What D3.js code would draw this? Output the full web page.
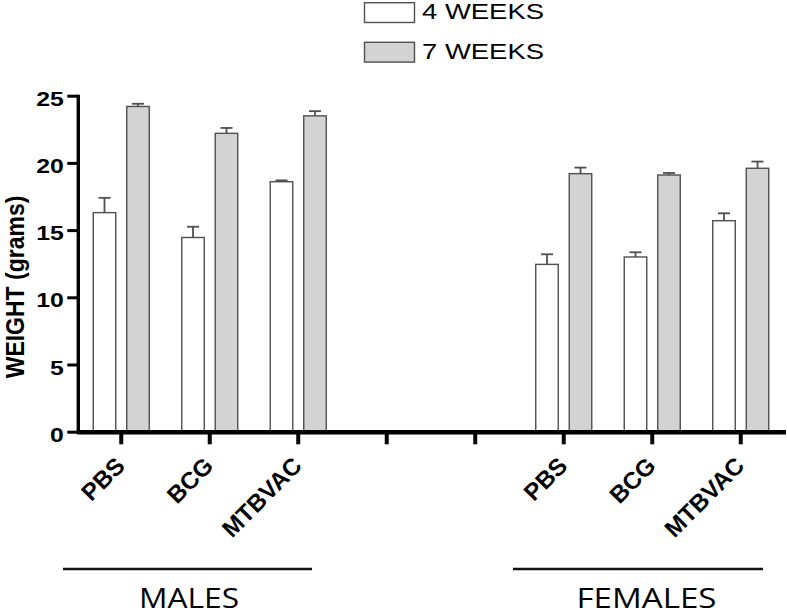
<!DOCTYPE html>
<html>
<head>
<meta charset="utf-8">
<script src="https://cdn.jsdelivr.net/npm/d3@7"></script>
<style>
  html, body { margin: 0; padding: 0; background: #fff; }
  svg { display: block; }
  text { font-family: "Liberation Sans", Arial, sans-serif; fill: #000; }
</style>
</head>
<body>
<svg id="chart" width="787" height="614"></svg>
<script>
// ---- data ----
const slotLabels = ["PBS", "BCG", "MTBVAC", "", "", "PBS", "BCG", "MTBVAC"];
const seriesNames = ["4 WEEKS", "7 WEEKS"];
const weeks4 = [16.3, 14.45, 18.6, null, null, 12.45, 13.0, 15.7];
const weeks4Err = [1.1, 0.8, 0.1, null, null, 0.75, 0.35, 0.55];
const weeks7 = [24.2, 22.2, 23.5, null, null, 19.2, 19.1, 19.6];
const weeks7Err = [0.2, 0.4, 0.35, null, null, 0.45, 0.15, 0.5];
const yTicks = [0, 5, 10, 15, 20, 25];
const groupNames = ["MALES", "FEMALES"];

// ---- layout ----
const svg = d3.select("#chart");
const SX = 1.18; // horizontal text stretch of the reference
const fills = ["#ffffff", "#d3d3d3"];
const barStroke = "#505050";

const x = d3.scaleBand().domain(d3.range(slotLabels.length)).range([77, 785]).padding(0);
const inner = d3.scaleBand().domain([0, 1]).range([-28, 28]).paddingInner(0.328);
const y = d3.scaleLinear().domain([0, 25]).range([431.7, 95.7]);

const series = [
  { name: seriesNames[0], values: weeks4, errs: weeks4Err, fill: fills[0] },
  { name: seriesNames[1], values: weeks7, errs: weeks7Err, fill: fills[1] }
];

// bars
series.forEach((s, si) => {
  const pts = s.values.map((v, i) => ({ i, v, e: s.errs[i] })).filter(d => d.v != null);
  const g = svg.append("g");
  g.selectAll("rect").data(pts).join("rect")
    .attr("x", d => x(d.i) + x.bandwidth() / 2 + inner(si))
    .attr("y", d => y(d.v))
    .attr("width", inner.bandwidth())
    .attr("height", d => y(0) - y(d.v))
    .attr("fill", s.fill)
    .attr("stroke", barStroke)
    .attr("stroke-width", 1.4);
  const cx = d => x(d.i) + x.bandwidth() / 2 + inner(si) + inner.bandwidth() / 2;
  g.selectAll("line.ev").data(pts).join("line").attr("class", "ev")
    .attr("x1", cx).attr("x2", cx)
    .attr("y1", d => y(d.v)).attr("y2", d => y(d.v + d.e))
    .attr("stroke", barStroke).attr("stroke-width", 1.8);
  g.selectAll("line.ec").data(pts).join("line").attr("class", "ec")
    .attr("x1", d => cx(d) - 6).attr("x2", d => cx(d) + 6)
    .attr("y1", d => y(d.v + d.e)).attr("y2", d => y(d.v + d.e))
    .attr("stroke", barStroke).attr("stroke-width", 1.8);
});

// y axis
const yAxis = svg.append("g")
  .attr("transform", "translate(78.3,0)")
  .call(d3.axisLeft(y).tickValues(yTicks).tickSize(11).tickSizeOuter(0).tickPadding(0));
yAxis.select(".domain").attr("stroke", "#000").attr("stroke-width", 3.4)
  .attr("d", `M0,${y(25) - 1}V${y(0) + 2}`);
yAxis.selectAll(".tick line").attr("stroke", "#000").attr("stroke-width", 3);
yAxis.selectAll(".tick text")
  .attr("x", null).attr("dy", null)
  .attr("transform", "translate(-14.5,9.5) scale(" + SX + ",1)")
  .attr("text-anchor", "end")
  .style("font-family", '"Liberation Sans", Arial, sans-serif')
  .style("font-weight", "bold").style("font-size", "21px").attr("fill", "#000");

// x axis
const xAxis = svg.append("g")
  .attr("transform", `translate(0,${432.3})`)
  .call(d3.axisBottom(x).tickSize(12).tickSizeOuter(0).tickFormat(i => slotLabels[i]));
xAxis.select(".domain").attr("stroke", "#000").attr("stroke-width", 4.6)
  .attr("d", "M77,0H786");
xAxis.selectAll(".tick line").attr("stroke", "#000").attr("stroke-width", 4);
xAxis.selectAll(".tick text")
  .attr("y", null).attr("dy", null)
  .attr("transform", "translate(5,35) rotate(-45)")
  .attr("text-anchor", "end")
  .style("font-family", '"Liberation Sans", Arial, sans-serif')
  .style("font-weight", "bold").style("font-size", "24px").attr("fill", "#000");

// y title
svg.append("text")
  .attr("transform", "translate(24,287) scale(1.12,1) rotate(-90)")
  .attr("text-anchor", "middle")
  .style("font-weight", "bold").style("font-size", "23px")
  .text("WEIGHT (grams)");

// group lines & labels
const groupLines = [[63, 312], [513, 763]];
groupNames.forEach((name, gi) => {
  const [a, b] = groupLines[gi];
  svg.append("line").attr("x1", a).attr("x2", b).attr("y1", 569).attr("y2", 569)
    .attr("stroke", "#111").attr("stroke-width", 2.4);
});
const groupLabelPos = [{ cx: 189, w: 100 }, { cx: 646.5, w: 140 }];
svg.selectAll("text.grp").data(groupNames).join("text").attr("class", "grp")
  .attr("x", (d, i) => groupLabelPos[i].cx - groupLabelPos[i].w / 2)
  .attr("y", 607.5)
  .attr("textLength", (d, i) => groupLabelPos[i].w)
  .attr("lengthAdjust", "spacingAndGlyphs")
  .style("font-family", '"Open Sans", "Liberation Sans", sans-serif')
  .style("font-size", "26.5px")
  .text(d => d);

// legend
const legY = [2.7, 42.3];
series.forEach((s, si) => {
  svg.append("rect").attr("x", 364.5).attr("y", legY[si]).attr("width", 50).attr("height", 19.8)
    .attr("fill", s.fill).attr("stroke", barStroke).attr("stroke-width", 1.4);
  svg.append("text").attr("x", 422).attr("y", legY[si] + 16.7)
    .attr("textLength", 122).attr("lengthAdjust", "spacingAndGlyphs")
    .style("font-size", "21.5px")
    .text(s.name);
});
</script>
</body>
</html>
